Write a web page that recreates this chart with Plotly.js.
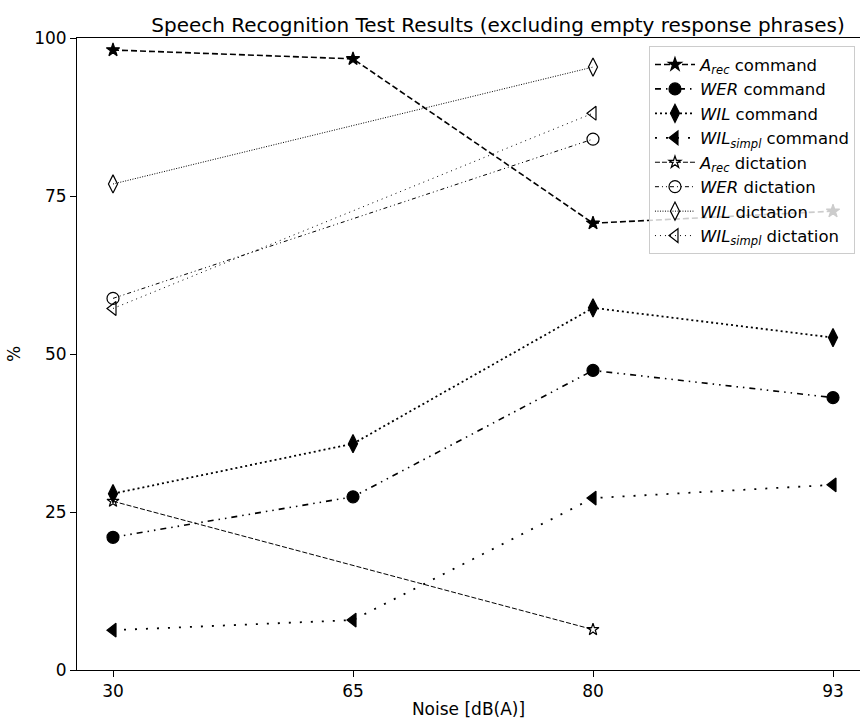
<!DOCTYPE html>
<html>
<head>
<meta charset="utf-8">
<script src="https://cdn.plot.ly/plotly-3.0.1.min.js"></script>
<style>html,body{margin:0;padding:0;background:#fff;}#chart{width:860px;height:719px;}</style>
</head>
<body>
<div id="chart"></div>
<script>
const noiseCategories = ['30', '65', '80', '93'];
const dictationNoise = ['30', '80'];

const arecCommand = [98.1, 96.7, 70.7, 72.6];
const werCommand = [21.0, 27.4, 47.4, 43.1];
const wilCommand = [27.9, 35.8, 57.3, 52.6];
const wilSimplCommand = [6.3, 7.9, 27.2, 29.3];

const arecDictation = [26.7, 6.4];
const werDictation = [58.8, 84.0];
const wilDictation = [76.9, 95.4];
const wilSimplDictation = [57.2, 88.1];

const seriesNames = [
  '<i>A<sub>rec</sub></i> command',
  '<i>WER</i> command',
  '<i>WIL</i> command',
  '<i>WIL<sub>simpl</sub></i> command',
  '<i>A<sub>rec</sub></i> dictation',
  '<i>WER</i> dictation',
  '<i>WIL</i> dictation',
  '<i>WIL<sub>simpl</sub></i> dictation'
];

const black = '#000000';
const FONT = 'DejaVu Sans';
function tr(x, y, name, dash, width, symbol, size) {
  return {
    x: x, y: y, name: name, type: 'scatter', mode: 'lines+markers',
    line: {color: black, dash: dash, width: width},
    marker: {symbol: symbol, size: size, color: black, line: {color: black, width: 1.2}},
    cliponaxis: false
  };
}

const data = [
  tr(noiseCategories, arecCommand, seriesNames[0], '6px,3px', 1.6, 'star', 10),
  tr(noiseCategories, werCommand, seriesNames[1], '6px,5px,1.5px,5px,1.5px,5px', 1.6, 'circle', 12),
  tr(noiseCategories, wilCommand, seriesNames[2], '2px,3px', 1.8, 'diamond-tall', 13),
  tr(noiseCategories, wilSimplCommand, seriesNames[3], '2px,9px', 1.8, 'triangle-left', 12),
  tr(dictationNoise, arecDictation, seriesNames[4], '5px,2px', 1, 'star-open', 9),
  tr(dictationNoise, werDictation, seriesNames[5], '4px,3px,1px,3px,1px,3px', 1, 'circle-open', 12),
  tr(dictationNoise, wilDictation, seriesNames[6], '1px,1.5px', 1, 'diamond-tall-open', 13),
  tr(dictationNoise, wilSimplDictation, seriesNames[7], '1px,4px', 1, 'triangle-left-open', 12)
];

const layout = {
  width: 860, height: 719,
  margin: {l: 77, r: 0, t: 38, b: 49},
  paper_bgcolor: '#ffffff', plot_bgcolor: '#ffffff',
  font: {family: FONT, size: 17, color: black},
  title: {text: 'Speech Recognition Test Results (excluding empty response phrases)',
          font: {family: FONT, size: 20, color: black},
          x: 498 / 860, xref: 'container', xanchor: 'center', y: 1, yref: 'paper', yanchor: 'bottom', pad: {b: 6}},
  showlegend: true,
  legend: {x: 0.7305, y: 0.987, xanchor: 'left', yanchor: 'top',
           bgcolor: 'rgba(255,255,255,0.8)', bordercolor: '#cccccc', borderwidth: 1,
           itemwidth: 40,
           font: {family: FONT, size: 16.5, color: black}, tracegroupgap: 0},
  xaxis: {
    type: 'category', categoryorder: 'array', categoryarray: noiseCategories,
    range: [-0.15, 3.1125], showgrid: false, zeroline: false,
    showline: true, linecolor: black, linewidth: 1, mirror: true,
    ticks: 'outside', ticklen: 6, tickcolor: black, tickwidth: 1,
    tickfont: {family: FONT, size: 17, color: black},
    title: {text: 'Noise [dB(A)]', font: {family: FONT, size: 17, color: black}, standoff: 4}
  },
  yaxis: {
    range: [0, 100], tickvals: [0, 25, 50, 75, 100], showgrid: false, zeroline: false,
    showline: true, linecolor: black, linewidth: 1,
    ticks: 'outside', ticklen: 6, tickcolor: black, tickwidth: 1,
    tickfont: {family: FONT, size: 17, color: black},
    title: {text: '%', font: {family: FONT, size: 17, color: black}, standoff: 9}
  }
};

Plotly.newPlot('chart', data, layout, {displayModeBar: false, responsive: false});
</script>
</body>
</html>
